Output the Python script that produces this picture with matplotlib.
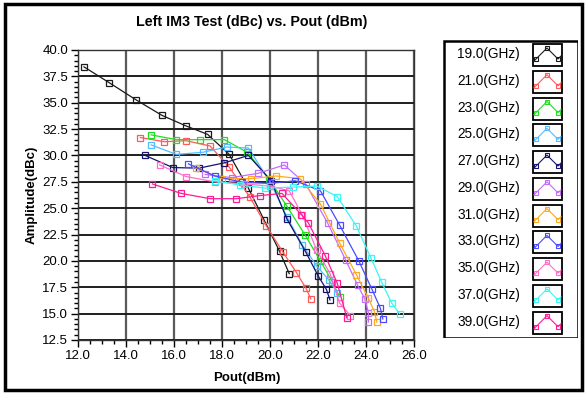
import numpy as np
import matplotlib
matplotlib.use('Agg')
import matplotlib.pyplot as plt
from matplotlib.patches import Rectangle

plt.rcParams['font.family'] = ['Liberation Sans', 'DejaVu Sans']

# legend labels and line colours
freq_labels = ['19.0(GHz)', '21.0(GHz)', '23.0(GHz)', '25.0(GHz)', '27.0(GHz)', '29.0(GHz)',
               '31.0(GHz)', '33.0(GHz)', '35.0(GHz)', '37.0(GHz)', '39.0(GHz)']
colors = ['#1a1a1a', '#ff5a5a', '#1ee01e', '#55bbff', '#14146e', '#c46cff',
          '#ffaa1e', '#4a4aff', '#ff6ec8', '#3cf5f5', '#ff1a96']

# Pout (dBm) / Left IM3 (dBc) per frequency
x19 = [12.25, 13.3, 14.4, 15.5, 16.5, 17.4, 18.3, 19.1, 19.75, 20.4, 20.8]
y19 = [38.4, 36.9, 35.3, 33.8, 32.8, 32.0, 30.1, 26.9, 23.9, 20.9, 18.8]
x21 = [14.6, 15.6, 16.5, 17.5, 18.3, 19.15, 19.85, 20.55, 21.1, 21.5, 21.7]
y21 = [31.7, 31.3, 31.4, 30.9, 28.9, 26.1, 23.3, 20.8, 18.9, 17.4, 16.4]
x23 = [15.05, 16.1, 17.1, 18.1, 19.05, 19.95, 20.7, 21.45, 22.1, 22.6, 22.9]
y23 = [31.95, 31.5, 31.5, 31.5, 30.3, 27.8, 25.2, 22.5, 20.0, 18.0, 16.6]
x25 = [15.05, 16.1, 17.2, 18.2, 19.1, 20.0, 20.7, 21.35, 21.95, 22.45, 22.8]
y25 = [31.0, 30.1, 30.3, 30.8, 30.7, 27.5, 24.2, 21.5, 19.5, 18.2, 17.0]
x27 = [14.8, 15.95, 17.05, 18.1, 19.1, 20.05, 20.7, 21.5, 22.0, 22.35, 22.5]
y27 = [30.0, 28.85, 28.8, 29.3, 30.0, 27.6, 24.0, 20.8, 18.6, 17.3, 16.3]
x29 = [17.3, 18.4, 19.5, 20.6, 21.5, 22.4, 23.15, 23.65, 23.95, 24.1, 24.1]
y29 = [28.2, 27.9, 28.3, 29.1, 27.25, 23.6, 20.1, 17.7, 16.4, 15.1, 14.2]
x31 = [16.9, 18.0, 19.2, 20.25, 21.25, 22.1, 22.9, 23.6, 24.1, 24.35, 24.45]
y31 = [28.8, 27.8, 27.8, 28.05, 27.8, 25.4, 21.7, 18.7, 16.45, 15.2, 14.2]
x33 = [16.6, 17.7, 18.85, 20.0, 21.05, 22.1, 22.9, 23.7, 24.25, 24.6, 24.7]
y33 = [29.2, 28.05, 27.45, 27.35, 27.6, 26.65, 23.4, 20.0, 17.3, 15.5, 14.5]
x35 = [15.4, 16.5, 17.7, 18.9, 20.0, 20.8, 21.35, 21.95, 22.5, 22.9, 23.35]
y35 = [29.1, 28.0, 27.5, 27.3, 27.1, 26.65, 24.35, 21.0, 18.8, 16.0, 14.8]
x37 = [17.7, 18.75, 19.8, 20.97, 21.95, 22.8, 23.6, 24.2, 24.65, 25.07, 25.4]
y37 = [27.6, 27.2, 26.9, 27.0, 27.1, 26.1, 23.3, 20.3, 18.0, 16.0, 15.0]
x39 = [15.1, 16.3, 17.5, 18.6, 19.6, 20.5, 21.3, 21.6, 22.3, 22.8, 23.2]
y39 = [27.3, 26.4, 25.9, 25.9, 26.2, 26.4, 24.4, 23.6, 20.5, 17.9, 14.6]

xs = [x19, x21, x23, x25, x27, x29, x31, x33, x35, x37, x39]
ys = [y19, y21, y23, y25, y27, y29, y31, y33, y35, y37, y39]

xticks = [12.0, 14.0, 16.0, 18.0, 20.0, 22.0, 24.0, 26.0]
yticks = [12.5, 15.0, 17.5, 20.0, 22.5, 25.0, 27.5, 30.0, 32.5, 35.0, 37.5, 40.0]

W, H = 587, 394
fig = plt.figure(figsize=(W / 100, H / 100), dpi=100)

def fx(px):
    return px / W

def fy(py):
    return 1 - py / H

# outer frame
fig.patches.append(Rectangle((fx(5), fy(390)), fx(577), 386 / H, transform=fig.transFigure,
                             fill=False, ec='black', lw=2.5))

ax = fig.add_axes([fx(78), fy(340), fx(336), 290 / H])
for x, y, c in zip(xs, ys, colors):
    ax.plot(x, y, color=c, lw=0.9, marker='s', ms=4.4, mfc='none', mec=c, mew=0.9)

ax.set_xlim(12, 26)
ax.set_ylim(12.5, 40)
ax.set_xticks(xticks)
ax.set_yticks(yticks)
ax.set_xticks(np.arange(12, 26.1, 0.5), minor=True)
ax.set_yticks(np.arange(12.5, 40.1, 0.5), minor=True)
ax.set_xticklabels(['%.1f' % v for v in xticks])
ax.set_yticklabels(['%.1f' % v for v in yticks])
ax.tick_params(which='major', direction='out', length=5, width=1, labelsize=9.5, pad=2)
ax.tick_params(which='minor', direction='out', length=3, width=1)
ax.xaxis.grid(True, color='#5a5a5a', lw=1.6)
ax.yaxis.grid(True, color='#1e1e1e', lw=1.4)
ax.set_axisbelow(True)
for s in ax.spines.values():
    s.set_color('#333333')
    s.set_linewidth(1)

fig.text(fx(252), fy(22), 'Left IM3 Test (dBc) vs. Pout (dBm)', ha='center', va='center',
         fontsize=10.3, fontweight='bold')
fig.text(fx(247), fy(378), 'Pout(dBm)', ha='center', va='center', fontsize=9.5, fontweight='bold')
fig.text(fx(32), fy(195), 'Amplitude(dBc)', ha='center', va='center', rotation=90,
         fontsize=9.5, fontweight='bold')

# legend panel, drawn in pixel coords
lax = fig.add_axes([fx(443), fy(338), fx(135), 298 / H])
lax.set_xlim(443, 578)
lax.set_ylim(338, 40)
lax.axis('off')
lax.add_patch(Rectangle((443.5, 40.5), 134, 297, fill=False, ec='black', lw=1.8))
for i, (lab, c) in enumerate(zip(freq_labels, colors)):
    yc = 55 + 26.77 * i
    lax.text(488.5, yc - 1, lab, ha='center', va='center', fontsize=9.8)
    lax.add_patch(Rectangle((533, yc - 11), 29, 22, fill=False, ec='black', lw=1.3))
    lax.plot([534, 536, 547, 558, 561], [yc + 6, yc + 4, yc - 7, yc + 4, yc + 1], color=c, lw=0.8)
    lax.plot([536, 547, 558], [yc + 4, yc - 7, yc + 4], ls='none', marker='s', ms=3.2,
             mfc='none', mec=c, mew=0.8)

fig.savefig('out.png', dpi=100)
